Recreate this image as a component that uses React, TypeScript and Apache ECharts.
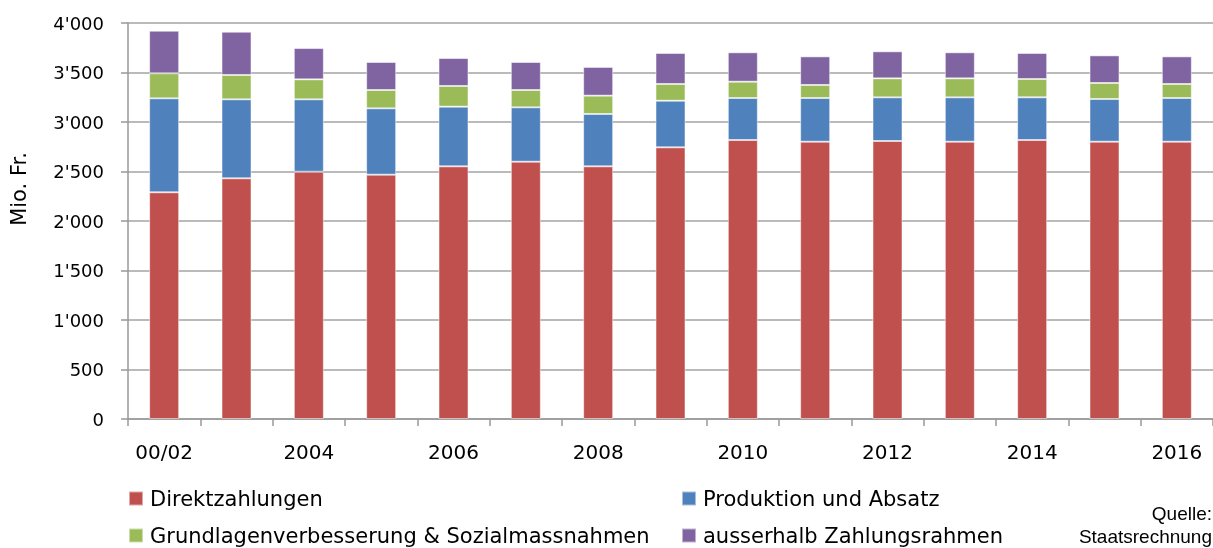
import React, { useEffect, useRef } from "react";
import * as echarts from "echarts";

const categories = ["00/02", "2003", "2004", "2005", "2006", "2007", "2008", "2009", "2010", "2011", "2012", "2013", "2014", "2015", "2016"];
const direktzahlungen = [2290, 2431, 2498, 2468, 2552, 2599, 2552, 2744, 2818, 2801, 2808, 2801, 2818, 2801, 2801];
const produktion = [949, 798, 731, 670, 603, 549, 529, 471, 424, 441, 441, 448, 431, 431, 441];
const grundlagen = [253, 246, 202, 185, 209, 175, 185, 169, 165, 132, 192, 192, 185, 162, 142];
const ausserhalb = [430, 437, 316, 283, 282, 283, 290, 313, 297, 289, 273, 263, 263, 279, 279];
const yTicks = [0, 500, 1000, 1500, 2000, 2500, 3000, 3500, 4000];

const seriesNames = ["Direktzahlungen", "Produktion und Absatz", "Grundlagenverbesserung & Sozialmassnahmen", "ausserhalb Zahlungsrahmen"];
const colors = ["#C0504D", "#4F81BD", "#9BBB59", "#8064A2"];

const fmt = (v: number) => {
  const s = String(v);
  return s.length > 3 ? s.slice(0, s.length - 3) + "'" + s.slice(-3) : s;
};

const FONT = "'DejaVu Sans', sans-serif";
const SRC_FONT = "'Liberation Sans', Arial, sans-serif";

const legendPos = [
  { left: 123, top: 483 },
  { left: 676, top: 483 },
  { left: 123, top: 520 },
  { left: 676, top: 520 },
];

export default function App() {
  const ref = useRef<HTMLDivElement>(null);
  useEffect(() => {
    if (!ref.current) return;
    const chart = echarts.init(ref.current, undefined, { renderer: "svg" });
    const data = [direktzahlungen, produktion, grundlagen, ausserhalb];
    chart.setOption({
      animation: false,
      grid: { left: 128, top: 23, width: 1089, height: 396, containLabel: false },
      legend: seriesNames.map((name, i) => ({
        orient: "horizontal",
        left: legendPos[i].left,
        top: legendPos[i].top,
        itemWidth: 14,
        itemHeight: 14,
        icon: "rect",
        data: [name],
        textStyle: { fontFamily: FONT, fontSize: 21, color: "#000", padding: [0, 0, 0, 2] },
      })),
      xAxis: {
        type: "category",
        data: categories,
        axisLine: { lineStyle: { color: "#999", width: 1.5 } },
        axisTick: { show: true, length: 7, alignWithLabel: false, interval: 0, lineStyle: { color: "#999", width: 1.5 } },
        axisLabel: {
          interval: 1,
          margin: 23,
          fontFamily: FONT,
          fontSize: 20,
          color: "#000",
        },
      },
      yAxis: {
        type: "value",
        min: 0,
        max: 4000,
        interval: 500,
        axisLine: { show: true, lineStyle: { color: "#999", width: 1.5 } },
        axisTick: { show: true, length: 7, lineStyle: { color: "#999", width: 1.5 } },
        splitLine: { lineStyle: { color: "#a3a3a3", width: 1.5 } },
        axisLabel: {
          margin: 24,
          fontFamily: FONT,
          fontSize: 18,
          color: "#000",
          formatter: (v: number) => (yTicks.includes(v) ? fmt(v) : ""),
        },
      },
      graphic: [
        {
          type: "text",
          x: 8,
          y: 189,
          rotation: Math.PI / 2,
          style: {
            text: "Mio. Fr.",
            fontFamily: FONT,
            fontSize: 21,
            fill: "#000",
            align: "center",
            verticalAlign: "top",
          },
        },
        {
          type: "text",
          right: 1,
          top: 504,
          style: { text: "Quelle:", fontFamily: SRC_FONT, fontSize: 19, fill: "#000", align: "right" },
        },
        {
          type: "text",
          right: 1,
          top: 527,
          style: { text: "Staatsrechnung", fontFamily: SRC_FONT, fontSize: 19, fill: "#000", align: "right" },
        },
      ],
      series: seriesNames.map((name, i) => ({
        name,
        type: "bar",
        stack: "total",
        barWidth: 30,
        data: data[i],
        itemStyle: { color: colors[i], borderColor: "rgba(255,255,255,0.5)", borderWidth: 1 },
      })),
    });
    return () => chart.dispose();
  }, []);
  return <div ref={ref} style={{ position: "fixed", left: 0, top: 0, width: 1213, height: 548 }} />;
}
